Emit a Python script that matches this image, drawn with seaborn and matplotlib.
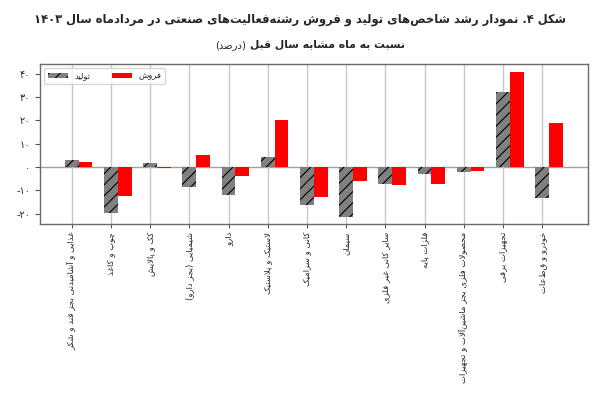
import re
import numpy as np
import pandas as pd
import seaborn as sns
import matplotlib.pyplot as plt
from matplotlib.ticker import FuncFormatter, MultipleLocator

title = 'شکل ۴. نمودار رشد شاخص‌های تولید و فروش رشته‌فعالیت‌های صنعتی در مردادماه سال ۱۴۰۳'
subtitle = 'نسبت به ماه مشابه سال قبل'
unit = '(درصد)'
series_names = ['تولید', 'فروش']

categories = [
    'غذایی و آشامیدنی بجز قند و شکر',
    'چوب و کاغذ',
    'کک و پالایش',
    'شیمیایی (بجز دارو)',
    'دارو',
    'لاستیک و پلاستیک',
    'کانی و سرامیک',
    'سیمان',
    'سایر کانی غیر فلزی',
    'فلزات پایه',
    'محصولات فلزی بجز ماشین‌آلات و تجهیزات',
    'تجهیزات برقی',
    'خودرو و قطعات',
]
production = [3.1, -19.7, 1.7, -8.7, -11.9, 4.4, -16.4, -21.6, -7.3, -2.9, -1.9, 32.1, -13.4]
sales = [2.1, -12.6, -0.6, 5.3, -4.0, 20.0, -12.7, -5.9, -7.6, -7.3, -1.6, 40.9, 19.0]

# matplotlib has no arabic shaping, so do it by hand with presentation forms
# isolated, final, initial, medial
FORMS = {
    'ا': ('\ufe8d', '\ufe8e'),
    'آ': ('\ufe81', '\ufe82'),
    'ب': ('\ufe8f', '\ufe90', '\ufe91', '\ufe92'),
    'پ': ('\ufb56', '\ufb57', '\ufb58', '\ufb59'),
    'ت': ('\ufe95', '\ufe96', '\ufe97', '\ufe98'),
    'ج': ('\ufe9d', '\ufe9e', '\ufe9f', '\ufea0'),
    'چ': ('\ufb7a', '\ufb7b', '\ufb7c', '\ufb7d'),
    'ح': ('\ufea1', '\ufea2', '\ufea3', '\ufea4'),
    'خ': ('\ufea5', '\ufea6', '\ufea7', '\ufea8'),
    'د': ('\ufea9', '\ufeaa'),
    'ذ': ('\ufeab', '\ufeac'),
    'ر': ('\ufead', '\ufeae'),
    'ز': ('\ufeaf', '\ufeb0'),
    'س': ('\ufeb1', '\ufeb2', '\ufeb3', '\ufeb4'),
    'ش': ('\ufeb5', '\ufeb6', '\ufeb7', '\ufeb8'),
    'ص': ('\ufeb9', '\ufeba', '\ufebb', '\ufebc'),
    'ع': ('\ufec9', '\ufeca', '\ufecb', '\ufecc'),
    'غ': ('\ufecd', '\ufece', '\ufecf', '\ufed0'),
    'ف': ('\ufed1', '\ufed2', '\ufed3', '\ufed4'),
    'ق': ('\ufed5', '\ufed6', '\ufed7', '\ufed8'),
    'ک': ('\ufb8e', '\ufb8f', '\ufb90', '\ufb91'),
    'ل': ('\ufedd', '\ufede', '\ufedf', '\ufee0'),
    'م': ('\ufee1', '\ufee2', '\ufee3', '\ufee4'),
    'ن': ('\ufee5', '\ufee6', '\ufee7', '\ufee8'),
    'ه': ('\ufee9', '\ufeea', '\ufeeb', '\ufeec'),
    'و': ('\ufeed', '\ufeee'),
    'ی': ('\ufbfc', '\ufbfd', '\ufbfe', '\ufbff'),
    '\ufefb': ('\ufefb', '\ufefc'),  # lam-alef
}


def fa(text):
    text = text.replace('لا', '\ufefb')
    out = []
    for i, ch in enumerate(text):
        if ch not in FORMS:
            if ch != '\u200c':
                out.append(ch)
            continue
        prev = text[i - 1] if i > 0 else ''
        nxt = text[i + 1] if i + 1 < len(text) else ''
        f = FORMS[ch]
        join_prev = prev in FORMS and len(FORMS[prev]) == 4
        join_next = len(f) == 4 and nxt in FORMS
        if join_prev and join_next:
            out.append(f[3])
        elif join_prev:
            out.append(f[1])
        elif join_next:
            out.append(f[2])
        else:
            out.append(f[0])
    s = ''.join(out)[::-1]
    s = re.sub('[۰-۹0-9]+', lambda m: m.group(0)[::-1], s)
    return s.translate(str.maketrans('()', ')('))


def fa_num(v, pos):
    return str(int(round(v))).translate(str.maketrans('0123456789', '۰۱۲۳۴۵۶۷۸۹'))


sns.set_style('ticks')
plt.rcParams['font.family'] = ['DejaVu Sans']
plt.rcParams['hatch.linewidth'] = 0.8
plt.rcParams['hatch.color'] = 'black'

df = pd.DataFrame({'pos': np.arange(len(categories)), 'production': production, 'sales': sales})
df['pos2'] = df['pos'] + 0.35

fig = plt.figure(figsize=(6.12, 3.99), dpi=100)
ax = fig.add_axes([40 / 612, 1 - 224 / 399, 548 / 612, 160 / 399])

sns.barplot(data=df, x='pos', y='production', native_scale=True, width=0.35,
            color='#808080', saturation=1, hatch='///', edgecolor='black', linewidth=0,
            errorbar=None, label=fa(series_names[0]), ax=ax)
sns.barplot(data=df, x='pos2', y='sales', native_scale=True, width=0.35,
            color='#ff0000', saturation=1, edgecolor='none', linewidth=0,
            errorbar=None, label=fa(series_names[1]), ax=ax)

ax.set_xlim(-0.81, 13.17)
ax.set_ylim(-24.4, 44.2)
ax.set_xticks(df['pos'])
ax.set_xticklabels([fa(c) for c in categories], rotation=90, fontsize=6.1)
ax.yaxis.set_major_locator(MultipleLocator(10))
ax.yaxis.set_major_formatter(FuncFormatter(fa_num))
ax.tick_params(axis='y', labelsize=7, length=3.5, color='#555555')
ax.tick_params(axis='x', length=3, color='#555555', pad=2.5)
ax.set_axisbelow(True)
ax.grid(axis='x', color='#c8c8c8', lw=1)
ax.axhline(0, color='#a0a0a0', lw=1, zorder=0.5)
ax.set_xlabel('')
ax.set_ylabel('')
for sp in ax.spines.values():
    sp.set_visible(True)
    sp.set_color('#6a6a6a')
    sp.set_linewidth(1)

ax.legend(loc='upper left', ncol=2, fontsize=6, handlelength=2.4, handleheight=0.6,
          columnspacing=2.6, fancybox=True, framealpha=0.8, edgecolor='#cccccc')

fig.text(0.49, 0.95, fa(title), ha='center', va='center', fontsize=8.3, fontweight='bold')
t = fig.text(405 / 612, 0.887, fa(subtitle), ha='right', va='center', fontsize=7.8, fontweight='bold')
ax.annotate(fa(unit), xy=(0, 0.5), xycoords=t, xytext=(-3, 0), textcoords='offset points',
            ha='right', va='center', fontsize=7.2)

fig.savefig('out.png', dpi=100)
